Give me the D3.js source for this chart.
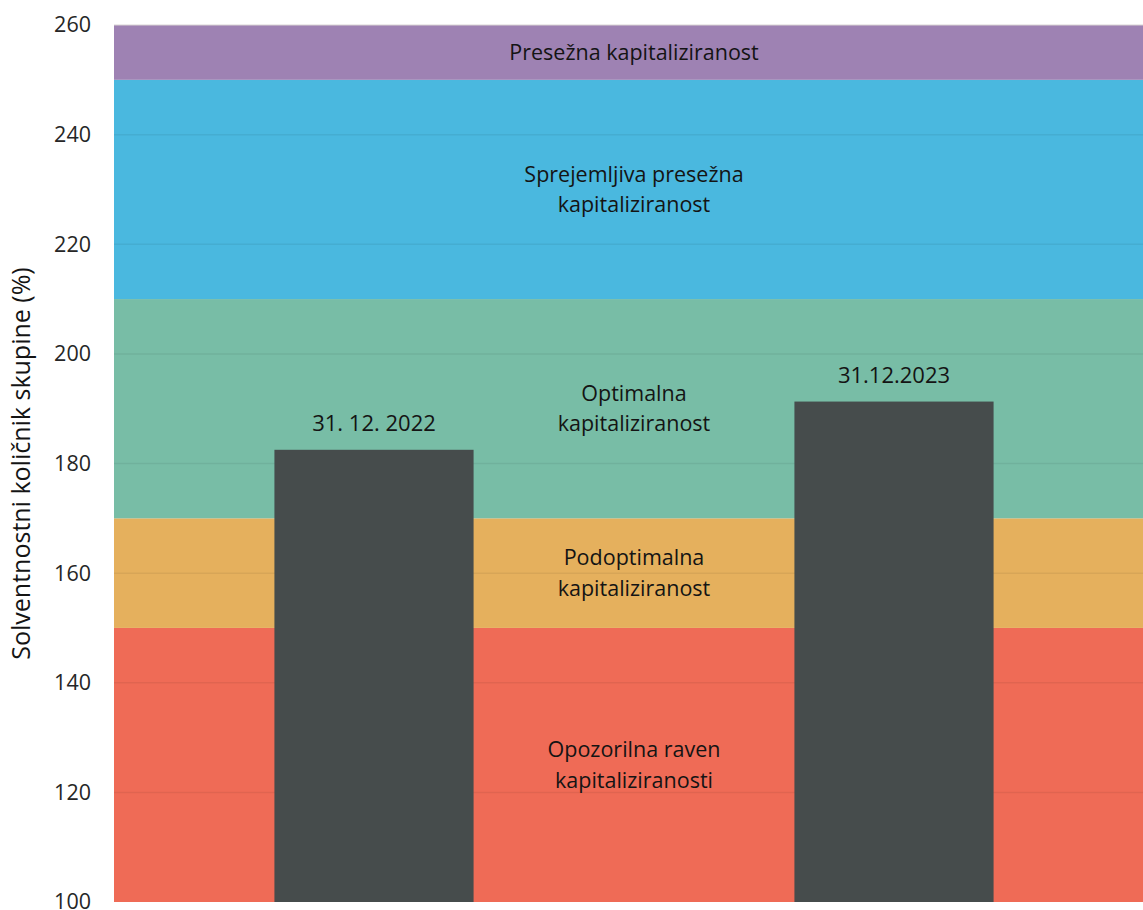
<!DOCTYPE html>
<html>
<head>
<meta charset="utf-8">
<script src="https://cdn.jsdelivr.net/npm/d3@7"></script>
<style>
  body { margin: 0; background: #fff; }
  svg { display: block; }
</style>
</head>
<body>
<div id="chart"></div>
<script>
// Podatki
const categories = ['31. 12. 2022', '31.12.2023'];
const values = [182.5, 191.3];

const bandStarts = [100, 150, 170, 210, 250];
const bandEnds = [150, 170, 210, 250, 260];
const bandColors = ['#ef6b56', '#e5b05d', '#78bda6', '#4ab8df', '#9e82b3'];
const bandLabels = [
    ['Opozorilna raven', 'kapitaliziranosti'],
    ['Podoptimalna', 'kapitaliziranost'],
    ['Optimalna', 'kapitaliziranost'],
    ['Sprejemljiva presežna', 'kapitaliziranost'],
    ['Presežna kapitaliziranost']
];

const yTicks = [100, 120, 140, 160, 180, 200, 220, 240, 260];

const width = 1143;
const height = 910;
const font = '"Open Sans", sans-serif';

const svg = d3.select('#chart')
    .append('svg')
    .attr('width', width)
    .attr('height', height);

const y = d3.scaleLinear().domain([100, 260]).range([902, 25]);

// desni rob je v izvirniku odrezan
const x = d3.scaleBand()
    .domain(categories)
    .range([114, 1154])
    .paddingInner(0.617)
    .paddingOuter(0.3085);

const xLeft = 114, xRight = 1154;
const midX = (xLeft + xRight) / 2;

// Barvni pasovi
svg.selectAll('.band')
    .data(bandStarts)
    .enter()
    .append('rect')
    .attr('x', xLeft)
    .attr('width', xRight - xLeft)
    .attr('y', (d, i) => y(bandEnds[i]))
    .attr('height', (d, i) => y(d) - y(bandEnds[i]))
    .style('fill', (d, i) => bandColors[i]);

// Mreža
svg.selectAll('.grid')
    .data(yTicks.slice(1, -1))
    .enter()
    .append('line')
    .attr('x1', xLeft)
    .attr('x2', xRight)
    .attr('y1', d => y(d))
    .attr('y2', d => y(d))
    .style('stroke', 'rgba(0,0,0,0.06)')
    .style('stroke-width', 1.5);

svg.append('line')
    .attr('x1', xLeft).attr('x2', xRight)
    .attr('y1', y(260)).attr('y2', y(260))
    .style('stroke', '#d9d4d4')
    .style('stroke-width', 1);

// Oznake pasov
bandLabels.forEach((lines, i) => {
    const cy = y((bandStarts[i] + bandEnds[i]) / 2);
    const lh = 30.5;
    const top = cy - (lines.length - 1) * lh / 2;
    lines.forEach((t, j) => {
        svg.append('text')
            .attr('x', midX)
            .attr('y', top + j * lh)
            .attr('dy', '0.35em')
            .attr('text-anchor', 'middle')
            .style('font-family', font)
            .style('font-size', '21.5px')
            .style('fill', '#141414')
            .text(t);
    });
});

// Stolpci
svg.selectAll('.bar')
    .data(values)
    .enter()
    .append('rect')
    .attr('x', (d, i) => x(categories[i]))
    .attr('width', x.bandwidth())
    .attr('y', d => y(d))
    .attr('height', d => y(100) - y(d))
    .style('fill', '#464c4c');

svg.selectAll('.barlabel')
    .data(values)
    .enter()
    .append('text')
    .attr('x', (d, i) => x(categories[i]) + x.bandwidth() / 2)
    .attr('y', d => y(d) - 26)
    .attr('dy', '0.35em')
    .attr('text-anchor', 'middle')
    .style('font-family', font)
    .style('font-size', '22px')
    .style('fill', '#141414')
    .text((d, i) => categories[i]);

// Os y
const yAxis = svg.append('g')
    .attr('transform', 'translate(91,0)')
    .call(d3.axisLeft(y).tickValues(yTicks).tickSize(0).tickPadding(0));
yAxis.select('.domain').remove();
yAxis.selectAll('text')
    .style('font-family', font)
    .style('font-size', '21.5px')
    .style('fill', '#262626');

svg.append('text')
    .attr('transform', `translate(21,${y(180)}) rotate(-90)`)
    .attr('text-anchor', 'middle')
    .attr('dy', '0.35em')
    .style('font-family', font)
    .style('font-size', '25px')
    .style('fill', '#141414')
    .text('Solventnostni količnik skupine (%)');
</script>
</body>
</html>
